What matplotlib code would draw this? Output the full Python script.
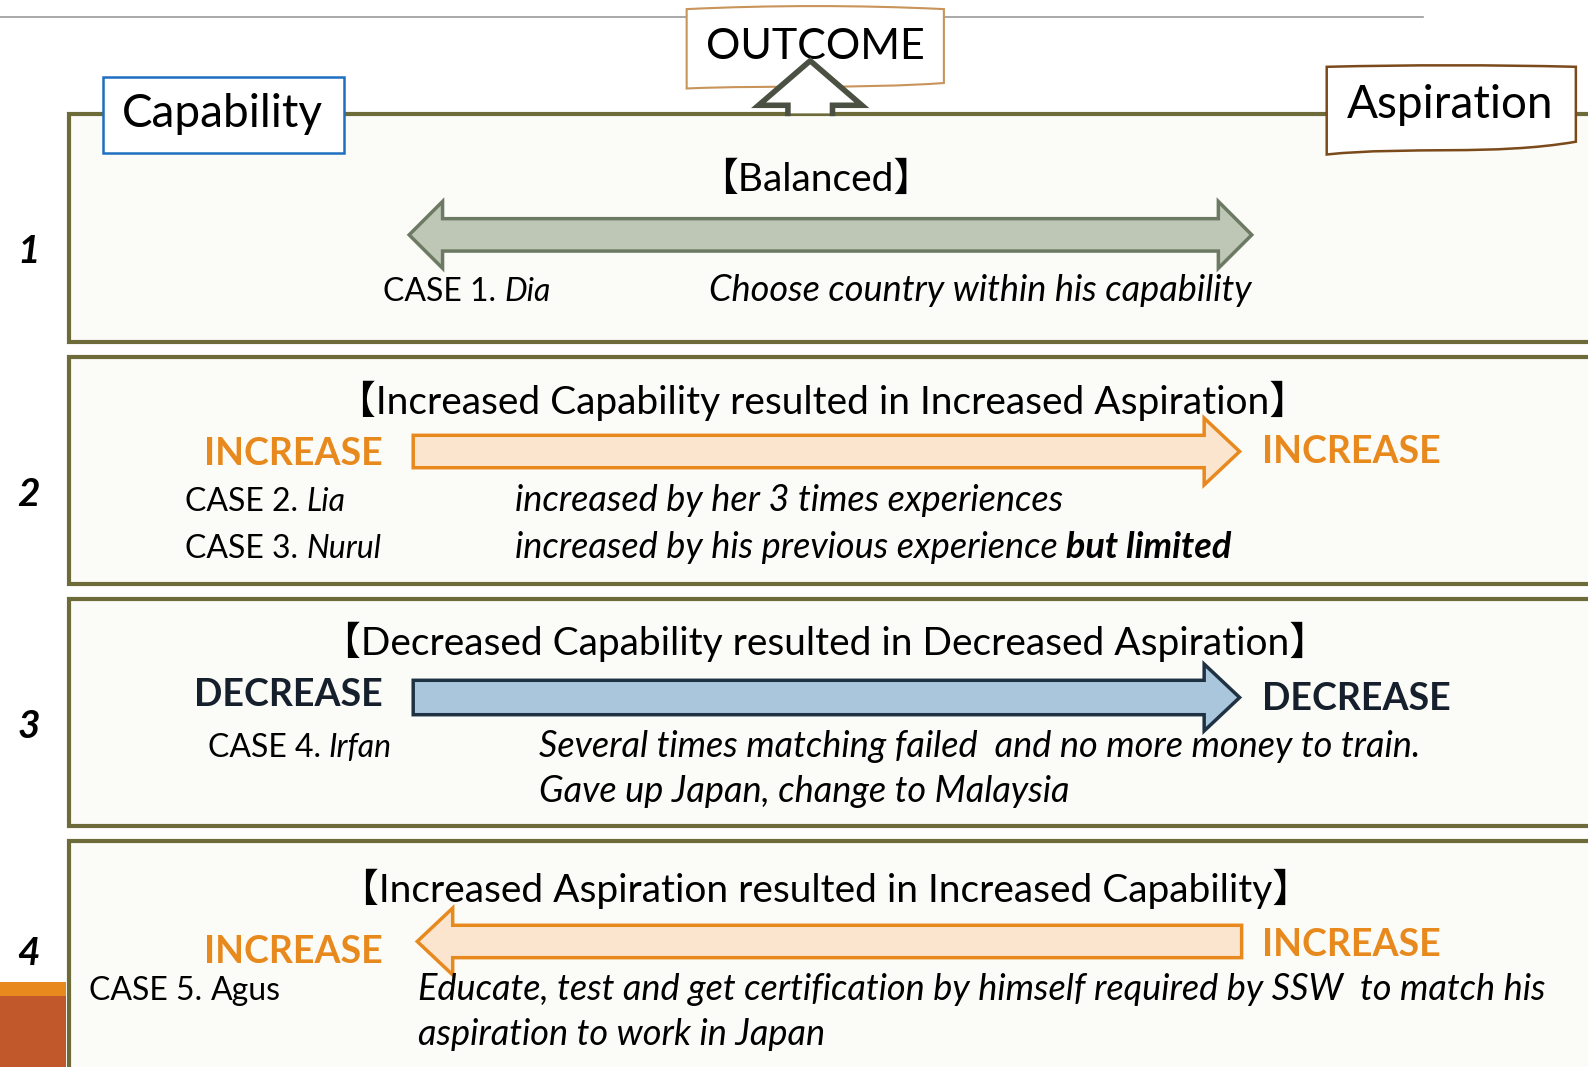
import matplotlib.pyplot as plt
from matplotlib.patches import Polygon, Rectangle, PathPatch
from matplotlib.path import Path

# ---- content ----
row_numbers = ['1', '2', '3', '4']
row_titles = [
    '【Balanced】',
    '【Increased Capability resulted in Increased Aspiration】',
    '【Decreased Capability resulted in Decreased Aspiration】',
    '【Increased Aspiration resulted in Increased Capability】',
]
case_ids = ['CASE 1. ', 'CASE 2. ', 'CASE 3. ', 'CASE 4. ', 'CASE 5. ']
case_names = ['Dia', 'Lia', 'Nurul', 'Irfan', 'Agus']
case_name_italic = [True, True, True, True, False]
case_notes = [
    ['Choose country within his capability'],
    ['increased by her 3 times experiences'],
    ['increased by his previous experience'],
    ['Several times matching failed  and no more money to train.',
     'Gave up Japan, change to Malaysia'],
    ['Educate, test and get certification by himself required by SSW  to match his',
     'aspiration to work in Japan'],
]
note_bold_tail = ' but limited'
change_words = ['INCREASE', 'DECREASE', 'INCREASE']
change_colors = ['#e8891e', '#15202c', '#e8891e']

FONT = ['Lato', 'Noto Sans CJK JP', 'DejaVu Sans']
plt.rcParams['font.family'] = FONT

fig = plt.figure(figsize=(15.88, 10.67), dpi=100)
ax = fig.add_axes([0, 0, 1, 1])
ax.set_xlim(0, 1568)
ax.set_ylim(1054, 0)
ax.axis('off')

panel_fc = '#fbfbf7'
panel_ec = '#6e6b3a'

# top rule line
ax.plot([0, 1405], [17, 17], color='#9a9a9a', lw=1.2)


def curve_box(x0, x1, y0, y1, top_bulge, bottom_wave, ec, lw=1.6):
    # rectangle with gently curved top and wavy bottom edge
    w = x1 - x0
    verts = [
        (x0, y0), (x0 + w / 3, y0 - top_bulge), (x0 + 2 * w / 3, y0 - top_bulge), (x1, y0),
        (x1, y1),
        (x1 - w / 3, y1 + bottom_wave), (x0 + w / 3, y1 + bottom_wave * 0.3), (x0, y1 + bottom_wave * 0.9),
        (x0, y0),
    ]
    codes = [Path.MOVETO, Path.CURVE4, Path.CURVE4, Path.CURVE4, Path.LINETO,
             Path.CURVE4, Path.CURVE4, Path.CURVE4, Path.CLOSEPOLY]
    ax.add_patch(PathPatch(Path(verts, codes), fc='white', ec=ec, lw=lw, zorder=5))


def block_arrow(x_tail, x_tip, yc, shaft, head, head_len, fc, ec, lw=2.5):
    d = 1 if x_tip > x_tail else -1
    xb = x_tip - d * head_len
    pts = [(x_tail, yc - shaft), (xb, yc - shaft), (xb, yc - head), (x_tip, yc),
           (xb, yc + head), (xb, yc + shaft), (x_tail, yc + shaft)]
    ax.add_patch(Polygon(pts, closed=True, fc=fc, ec=ec, lw=lw, joinstyle='miter', zorder=3))


def double_arrow(x0, x1, yc, shaft, head, head_len, fc, ec, lw=2.5):
    pts = [(x0, yc), (x0 + head_len, yc - head), (x0 + head_len, yc - shaft),
           (x1 - head_len, yc - shaft), (x1 - head_len, yc - head), (x1, yc),
           (x1 - head_len, yc + head), (x1 - head_len, yc + shaft),
           (x0 + head_len, yc + shaft), (x0 + head_len, yc + head)]
    ax.add_patch(Polygon(pts, closed=True, fc=fc, ec=ec, lw=lw, joinstyle='miter', zorder=3))


def mixed(x, y, first, second, size, style1='normal', style2='italic', w1='normal', w2='normal', ha='left'):
    t1 = ax.text(x, y, first, fontsize=size, style=style1, weight=w1, ha=ha, va='bottom', zorder=6)
    ax.annotate(second, xy=(1, 0), xycoords=t1, fontsize=size, style=style2, weight=w2,
                ha='left', va='bottom', zorder=6)
    return t1


# panels
panel_rows = [(113, 338), (353, 577), (592, 816), (831, 1070)]
for (y0, y1) in panel_rows:
    ax.add_patch(Rectangle((68, y0), 1560, y1 - y0, fc=panel_fc, ec=panel_ec, lw=3, zorder=1))

# bottom-left decorative block
ax.add_patch(Rectangle((0, 970), 65, 14, fc='#e8891e', ec='none', zorder=2))
ax.add_patch(Rectangle((0, 984), 65, 80, fc='#c0582b', ec='none', zorder=2))

# header boxes
curve_box(678, 932, 9, 82, 4, 6, '#c8945a', lw=1.5)
ax.text(805, 46, 'OUTCOME', fontsize=31, ha='center', va='center', zorder=7)
ax.add_patch(Rectangle((102, 76), 238, 75, fc='white', ec='#1f6fc0', lw=1.8, zorder=5))
ax.text(220, 113, 'Capability', fontsize=33, ha='center', va='center', zorder=7)
curve_box(1310, 1556, 66, 140, 2, 14, '#7a4a1a', lw=1.8)
ax.text(1432, 104, 'Aspiration', fontsize=33, ha='center', va='center', zorder=7)

# outcome up-arrow (outline, open at the panel edge)
up = [(778, 112), (778, 104), (749, 104), (800, 60), (851, 104), (822, 104), (822, 112)]
ax.add_patch(Polygon(up, closed=True, fc='white', ec='none', zorder=8))
ax.plot([p[0] for p in up], [p[1] for p in up], color='#4a5142', lw=4,
        solid_joinstyle='miter', zorder=9)

# row numbers
for num, y in zip(row_numbers, [248, 488, 718, 942]):
    ax.text(28, y, num, fontsize=28, weight='bold', style='italic', ha='center', va='center')

# section titles
for title, (x, y) in zip(row_titles, [(805, 178), (812, 396), (815, 634), (815, 878)]):
    ax.text(x, y, title, fontsize=28, ha='center', va='center', zorder=6)

# arrows
double_arrow(404, 1236, 232, 16, 33, 33, '#bec6b6', '#6d7a63')
block_arrow(408, 1224, 446, 16, 33, 35, '#fbe5cf', '#e8891e')
block_arrow(408, 1224, 689, 17, 33, 35, '#aac6dc', '#1f3244')
block_arrow(1226, 412, 930, 16, 33, 35, '#fbe5cf', '#e8891e')

# change labels
for word, col, y in zip(change_words, change_colors, [448, 687, 940]):
    ax.text(378, y, word, fontsize=27, weight='bold', color=col, ha='right', va='center')
for word, col, y in zip(change_words, change_colors, [446, 690, 933]):
    ax.text(1246, y, word, fontsize=27, weight='bold', color=col, ha='left', va='center')

# case labels
case_pos = [(378, 303), (183, 511), (183, 557), (205, 754), (88, 994)]
for cid, name, ital, (x, y) in zip(case_ids, case_names, case_name_italic, case_pos):
    mixed(x, y, cid, name, 23, style2='italic' if ital else 'normal')

# case notes
fs = 26
ax.text(1236, 303, case_notes[0][0], fontsize=fs, style='italic', ha='right', va='bottom')
ax.text(509, 511, case_notes[1][0], fontsize=fs, style='italic', ha='left', va='bottom')
mixed(509, 557, case_notes[2][0], note_bold_tail, fs, style1='italic', style2='italic', w2='bold')
for i, line in enumerate(case_notes[3]):
    ax.text(532, 754 + 44 * i, line, fontsize=fs, style='italic', ha='left', va='bottom')
for i, line in enumerate(case_notes[4]):
    ax.text(413, 994 + 44 * i, line, fontsize=fs, style='italic', ha='left', va='bottom')

fig.savefig('out.png', dpi=100, facecolor='white')
